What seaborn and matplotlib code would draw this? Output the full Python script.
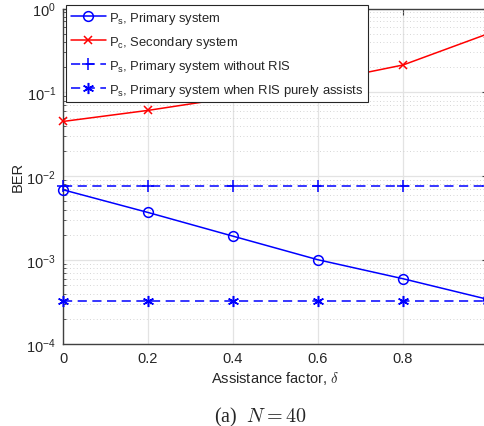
import numpy as np
import pandas as pd
import matplotlib
matplotlib.use("Agg")
import matplotlib.pyplot as plt
from matplotlib.ticker import LogLocator, NullFormatter, FixedLocator
import seaborn as sns

# Assistance factor values
delta = [0.0, 0.2, 0.4, 0.6, 0.8, 1.0]

# BER of each system versus the assistance factor
ber_primary = [0.0069, 0.0037, 0.00193, 0.00101, 0.00060, 0.00034]
ber_secondary = [0.0450, 0.0610, 0.087, 0.132, 0.212, 0.50]
ber_primary_no_ris = [0.0076, 0.0076, 0.0076, 0.0076, 0.0076, 0.0076]
ber_primary_pure_assist = [0.00033, 0.00033, 0.00033, 0.00033, 0.00033, 0.00033]

labels = [
    r"$\mathregular{P_s}$, Primary system",
    r"$\mathregular{P_c}$, Secondary system",
    r"$\mathregular{P_s}$, Primary system without RIS",
    r"$\mathregular{P_s}$, Primary system when RIS purely assists",
]
x_ticks = [0, 0.2, 0.4, 0.6, 0.8, 1.0]
x_tick_labels = ["0", "0.2", "0.4", "0.6", "0.8", "1"]
y_ticks = [1e-4, 1e-3, 1e-2, 1e-1, 1e0]

sns.set_theme(style="white")
ink = "#262626"
plt.rcParams.update({
    "font.family": ["Liberation Sans", "DejaVu Sans"],
    "mathtext.fontset": "custom",
    "mathtext.rm": "Liberation Sans",
    "mathtext.it": "Liberation Sans:italic",
    "mathtext.sf": "Liberation Sans",
    "axes.edgecolor": "#404040",
    "text.color": ink,
    "xtick.color": ink,
    "ytick.color": ink,
})

fig = plt.figure(figsize=(4.85, 4.27), dpi=100)
ax = fig.add_axes([63 / 485, 82 / 427, 425 / 485, 335.5 / 427])

df = pd.DataFrame({
    "delta": delta,
    "primary": ber_primary,
    "secondary": ber_secondary,
    "no_ris": ber_primary_no_ris,
    "pure": ber_primary_pure_assist,
})

lw = 1.1
dash = (0, (6, 3.6))
sns.lineplot(data=df, x="delta", y="primary", ax=ax, color="blue", lw=lw,
             marker="o", markersize=7, markerfacecolor="none",
             markeredgecolor="blue", markeredgewidth=1.1, label=labels[0],
             clip_on=False, zorder=5)
sns.lineplot(data=df, x="delta", y="secondary", ax=ax, color="red", lw=lw,
             marker="x", markersize=6, markeredgecolor="red",
             markeredgewidth=1.1, label=labels[1], clip_on=False, zorder=5)
sns.lineplot(data=df, x="delta", y="no_ris", ax=ax, color="blue", lw=lw,
             linestyle=dash, marker="+", markersize=9, markeredgecolor="blue",
             markeredgewidth=1.1, label=labels[2], clip_on=False, zorder=5)
sns.lineplot(data=df, x="delta", y="pure", ax=ax, color="blue", lw=lw,
             linestyle=dash, marker=(6, 2, 0), markersize=8,
             markeredgecolor="blue", markeredgewidth=1.1, label=labels[3],
             clip_on=False, zorder=5)

ax.set_yscale("log")
ax.set_xlim(0, 1)
ax.set_ylim(1e-4, 1e0)
ax.xaxis.set_major_locator(FixedLocator(x_ticks))
ax.set_xticklabels(x_tick_labels)
ax.yaxis.set_major_locator(FixedLocator(y_ticks))
ax.yaxis.set_minor_locator(LogLocator(base=10, subs=np.arange(2, 10)))
ax.yaxis.set_minor_formatter(NullFormatter())

# Major grid solid light gray, minor grid dotted
ax.grid(True, which="major", color="#e3e3e3", lw=0.9, ls="-")
ax.grid(True, which="minor", axis="y", color="#c8c8c8", lw=0.6, ls=(0, (1, 3)))
ax.set_axisbelow(True)

for side in ["top", "right", "left", "bottom"]:
    ax.spines[side].set_visible(True)
    ax.spines[side].set_linewidth(1.0)

ax.tick_params(axis="both", which="major", direction="in", length=4.5,
               width=0.8, top=True, right=True, labelsize=10.5, pad=5,
               colors="#404040", labelcolor=ink)
ax.tick_params(axis="y", which="minor", direction="in", length=2.5,
               width=0.6, left=True, right=True, colors="#404040")
ax.tick_params(axis="x", which="minor", bottom=False, top=False)

ax.set_ylabel("BER", fontsize=10.5, labelpad=1)
ax.set_xlabel(r"Assistance factor, $\delta$", fontsize=10.5, labelpad=3,
              math_fontfamily="cm")

leg = ax.legend(loc="upper left", bbox_to_anchor=(66 / 485, 1 - 6 / 427),
                bbox_transform=fig.transFigure, borderaxespad=0,
                fancybox=False, framealpha=1, edgecolor="#262626",
                fontsize=9.4, handlelength=2.7, handletextpad=0.25,
                labelspacing=0.62, borderpad=0.35)
leg.get_frame().set_linewidth(0.8)
leg.set_zorder(10)

fig.text(260 / 485, 1 - 417 / 427, r"(a)  $N = 40$", ha="center", va="center",
         fontsize=14.5, family="Liberation Serif", math_fontfamily="cm")

fig.savefig("out.png", dpi=100)
